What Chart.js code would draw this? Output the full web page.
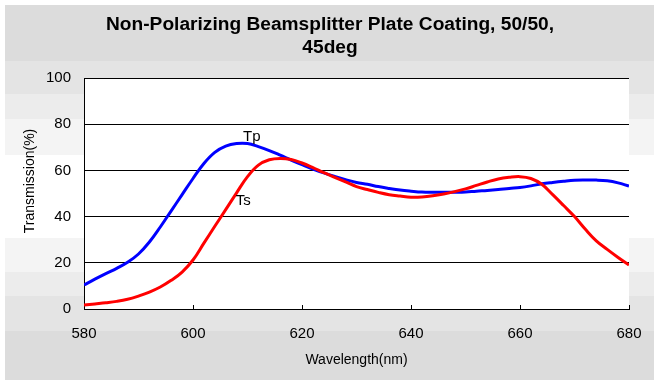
<!DOCTYPE html>
<html>
<head>
<meta charset="utf-8">
<script src="https://cdn.jsdelivr.net/npm/chart.js@4.4.1/dist/chart.umd.min.js"></script>
<style>
  html, body { margin:0; padding:0; background:#fff; }
  #wrap { width:661px; height:387px; }
</style>
</head>
<body>
<div id="wrap"><canvas id="chart" width="661" height="387"></canvas></div>
<script>
// datos (cada 2 nm)
const wavelength = [580,582,584,586,588,590,592,594,596,598,600,602,604,606,608,610,612,614,616,618,620,
  622,624,626,628,630,632,634,636,638,640,642,644,646,648,650,652,654,656,658,660,
  662,664,666,668,670,672,674,676,678,680];
const tp = [10.4,12.9,15.3,17.6,20.2,23.8,29,35.5,42.5,49.5,56.5,63,67.8,70.5,71.6,71.6,70.3,68.6,66.6,64.5,62.5,
  60.6,58.9,57.4,56,54.8,54,53,52.2,51.5,51,50.6,50.5,50.5,50.5,50.6,51,51.3,51.7,52.2,52.6,
  53.3,54.2,54.8,55.3,55.7,55.8,55.8,55.5,54.6,53.2];
const ts = [1.7,2.2,2.7,3.3,4.2,5.6,7.3,9.5,12.4,16,21.2,28.5,35.8,43,50.3,57.3,62.3,64.6,65.2,64.7,63.2,
  61.2,59,57,55,53,51.7,50.5,49.5,48.9,48.4,48.5,49,49.8,50.8,52,53.5,55,56.3,57,57.3,
  56.5,54,49.5,44.8,40,34.5,29.5,25.8,22.3,19];
const xTicks = [580,600,620,640,660,680];
const yTicks = [0,20,40,60,80,100];
const titleLines = ['Non-Polarizing Beamsplitter Plate Coating, 50/50,', '45deg'];
const seriesNames = ['Tp','Ts'];
const labelPos = [[610.8, 74.5], [609.2, 46.8]]; // donde van las etiquetas Tp / Ts

const FONT = '"Liberation Sans", Arial, sans-serif';

// --- fondo con bandas grises + titulos ---
const frame = {
  id: 'frame',
  beforeDraw(chart){
    const ctx = chart.ctx, a = chart.chartArea;
    const bands = [[5,61,'#dcdcdc'],[61,94,'#e4e4e4'],[94,119,'#ececec'],[119,155,'#f4f4f4'],
      [155,238,'#ffffff'],[238,272,'#f4f4f4'],[272,296,'#ececec'],[296,331,'#e4e4e4'],[331,380,'#dcdcdc']];
    ctx.save();
    bands.forEach(b => { ctx.fillStyle = b[2]; ctx.fillRect(5, b[0], 649, b[1]-b[0]); });
    ctx.fillStyle = '#fff';
    ctx.fillRect(a.left, a.top, a.right-a.left, a.bottom-a.top);

    // titulo (estirado al ancho del original)
    ctx.fillStyle = '#000';
    ctx.textAlign = 'center'; ctx.textBaseline = 'middle';
    ctx.font = 'bold 18px ' + FONT;
    const w0 = ctx.measureText(titleLines[0]).width;
    const sx = 448 / w0;
    [25, 48].forEach((y, i) => {
      ctx.save();
      ctx.translate(330, y); ctx.scale(sx, 1);
      ctx.fillText(titleLines[i], 0, 0);
      ctx.restore();
    });

    // titulos de ejes
    ctx.font = '14px ' + FONT;
    ctx.fillText('Wavelength(nm)', (a.left + a.right)/2, 360);
    ctx.save();
    ctx.translate(30, 181); ctx.rotate(-Math.PI/2);
    ctx.fillText('Transmission(%)', 0, 0);
    ctx.restore();
    ctx.restore();
  },
  beforeDatasetsDraw(chart){
    // marcas del eje x hacia adentro
    const ctx = chart.ctx, x = chart.scales.x, a = chart.chartArea;
    ctx.save();
    ctx.strokeStyle = '#000'; ctx.lineWidth = 1;
    xTicks.forEach(v => {
      const px = Math.round(x.getPixelForValue(v)) + 0.5;
      ctx.beginPath(); ctx.moveTo(px, a.bottom); ctx.lineTo(px, a.bottom - 4); ctx.stroke();
    });
    ctx.restore();
  },
  afterDatasetsDraw(chart){
    const ctx = chart.ctx, x = chart.scales.x, y = chart.scales.y;
    ctx.save();
    ctx.fillStyle = '#000'; ctx.font = '15px ' + FONT;
    ctx.textAlign = 'center'; ctx.textBaseline = 'middle';
    seriesNames.forEach((n, i) => {
      ctx.fillText(n, x.getPixelForValue(labelPos[i][0]), y.getPixelForValue(labelPos[i][1]));
    });
    ctx.restore();
  }
};

new Chart(document.getElementById('chart'), {
  type: 'line',
  data: {
    labels: wavelength,
    datasets: [
      { label:'Ts', data: wavelength.map((w,i)=>({x:w, y:ts[i]})), borderColor:'#ff0000', borderWidth:3,
        pointRadius:0, tension:0.4, order:0 },
      { label:'Tp', data: wavelength.map((w,i)=>({x:w, y:tp[i]})), borderColor:'#0000ff', borderWidth:3,
        pointRadius:0, tension:0.4, order:1 }
    ]
  },
  options: {
    responsive:false, animation:false,
    layout: { padding: { top:78, left:0, right:32, bottom:0 } },
    plugins: { legend:{ display:false }, title:{ display:false }, tooltip:{ enabled:false } },
    scales: {
      x: {
        type:'linear', min:580, max:680,
        afterFit(s){ s.height = 78; },
        afterBuildTicks(s){ s.ticks = xTicks.map(v => ({ value:v })); },
        grid:{ display:false, drawTicks:false },
        border:{ display:true, color:'#000', width:1 },
        ticks:{ color:'#000', padding:16, maxRotation:0, font:{ family:FONT, size:15 } }
      },
      y: {
        min:0, max:100,
        afterFit(s){ s.width = 84; },
        afterBuildTicks(s){ s.ticks = yTicks.map(v => ({ value:v })); },
        grid:{ color:'#000', lineWidth:1, drawTicks:false },
        border:{ display:true, color:'#000', width:1 },
        ticks:{ color:'#000', padding:13, font:{ family:FONT, size:15 } }
      }
    }
  },
  plugins: [frame]
});
</script>
</body>
</html>
